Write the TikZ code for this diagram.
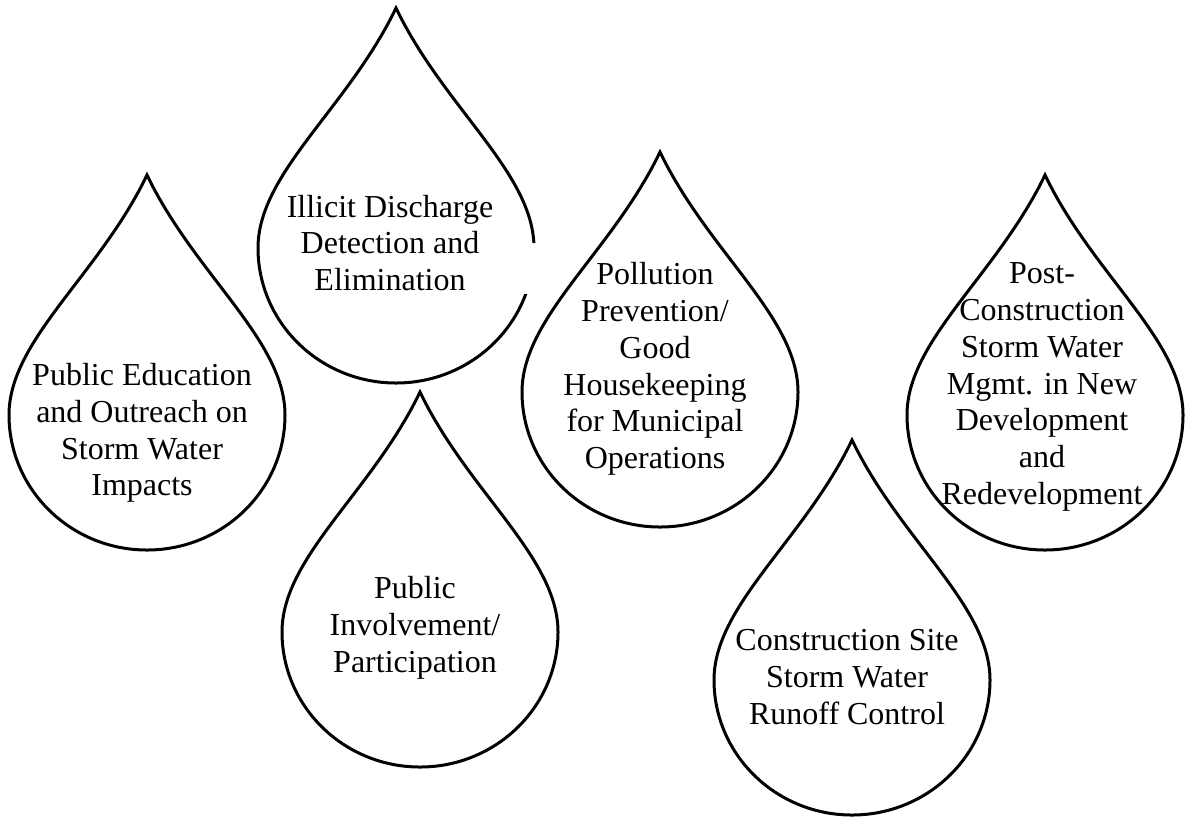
\documentclass[tikz,border=0pt]{standalone}
\usepackage{fontspec}
\setmainfont{Liberation Serif}
\tikzset{
  dropline/.style={draw=black, line width=1.5pt, line join=miter},
  droptext/.style={align=center, inner sep=0pt, font=\fontsize{16pt}{18.4pt}\selectfont},
  drop/.pic={\draw[dropline] (0,0) .. controls (-48,100) and (-138,165) .. (-138,240)
      arc[start angle=180, end angle=0, x radius=138, y radius=135]
      .. controls (138,165) and (48,100) .. (0,0) -- cycle;}
}
\begin{document}
\begin{tikzpicture}[x=0.5pt,y=-0.5pt]
\useasboundingbox (0,0) rectangle (1187,816);
\clip (0,0) rectangle (1187,816);
% drops
\pic at (147,175) {drop};
\begin{scope}
  \clip (0,0) -- (1187,0) -- (1187,816) -- (0,816) -- cycle
        (521,243) -- (521,294) -- (545,294) -- (545,243) -- cycle;
  \pic at (396,8) {drop};
\end{scope}
\pic at (420,392) {drop};
\pic at (660,152) {drop};
\pic at (1045,175) {drop};
\pic at (852,440) {drop};
% texts
\node[droptext] (t1) at (142,433) {Public Education\\and Outreach on\\Storm Water\\Impacts};
\node[droptext] (t2) at (390,243) {Illicit Discharge\\Detection and\\Elimination};
\node[droptext] (t3) at (415,628) {Public\\Involvement/\\Participation};
\node[droptext] (t4) at (655,369) {Pollution\\Prevention/\\Good\\Housekeeping\\for Municipal\\Operations};
\node[droptext] (t5) at (1042,387) {Post-\\Construction\\Storm Water\\Mgmt. in New\\Development\\and\\Redevelopment};
\node[droptext] (t6) at (847,677) {Construction Site\\Storm Water\\Runoff Control};
\end{tikzpicture}
\end{document}
